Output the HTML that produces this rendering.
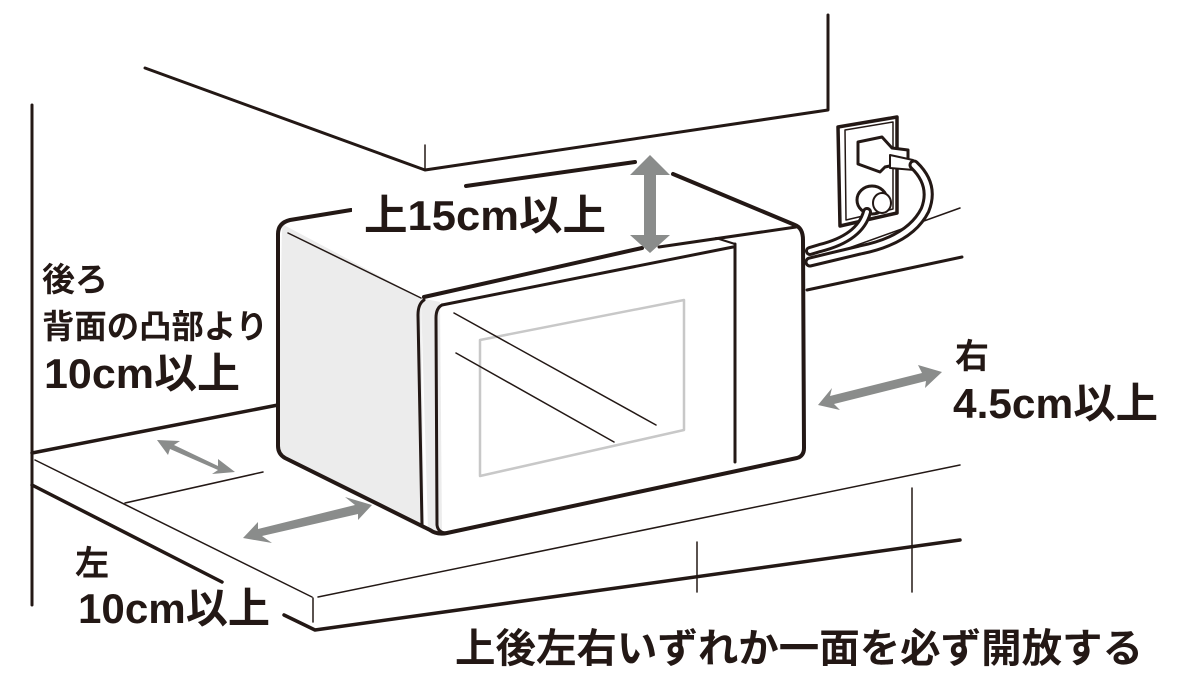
<!DOCTYPE html>
<html><head><meta charset="utf-8"><style>
html,body{margin:0;padding:0;background:#fff;}
svg{display:block}
text{font-family:"Liberation Sans","Noto Sans CJK JP",sans-serif;font-weight:bold;fill:#231815}
</style></head><body>
<svg width="1179" height="676" viewBox="0 0 1179 676" xmlns="http://www.w3.org/2000/svg">
<g stroke="#231815" fill="none" stroke-linecap="round" stroke-linejoin="round">
<polyline points="145,68 425,170 828,110 828,15" stroke-width="3"/>
<line x1="425" y1="145" x2="425" y2="170" stroke-width="1.5"/>
<line x1="32" y1="105" x2="32" y2="605" stroke-width="3"/>
<line x1="32" y1="453" x2="278" y2="405" stroke-width="3.5"/>
<line x1="35" y1="460" x2="312" y2="597" stroke-width="1.5"/>
<line x1="32" y1="485" x2="222" y2="582" stroke-width="3.5"/>
<polyline points="284,615 315,630 960,540" stroke-width="3.5"/>
<line x1="313" y1="598" x2="313" y2="622" stroke-width="1.5"/>
<line x1="318" y1="597" x2="960" y2="465" stroke-width="1.5"/>
<line x1="125" y1="503" x2="263" y2="472" stroke-width="1.5"/>
<line x1="697" y1="542" x2="697" y2="592" stroke-width="1.5"/>
<line x1="912" y1="488" x2="912" y2="592" stroke-width="1.5"/>
<line x1="807" y1="290" x2="962" y2="257" stroke-width="3"/>
<line x1="807" y1="263" x2="960" y2="208" stroke-width="1.5"/>
<path d="M838,127 L897,117 L897,213 L840,226 Z" fill="#fff" stroke-width="3.5"/>
<path d="M845,130 L893,122 L893,209 L846,220 Z" stroke-width="1.5"/>
<path d="M858,142 L882,137 L892,148 L908,150 L908,162 L885,167 L880,172 L858,164 Z" fill="#fff" stroke-width="3"/>
<path d="M890,155 L913,160 Q918,163 914,170 L890,168 Z" fill="#fff" stroke-width="2"/>
<path d="M914,165 Q935,185 925,210 Q910,240 860,250 L810,262" stroke-width="11"/>
<path d="M914,165 Q935,185 925,210 Q910,240 860,250 L810,262" stroke="#fff" stroke-width="5"/>
<ellipse cx="872" cy="200" rx="15" ry="14" fill="#fff" stroke-width="3"/>
<ellipse cx="882" cy="203" rx="9" ry="10" fill="#fff" stroke-width="2"/>
<path d="M867,212 Q860,238 820,248 L810,251" stroke-width="10"/>
<path d="M867,212 Q860,238 820,248 L810,251" stroke="#fff" stroke-width="4"/>
<path d="M280,222 L351,210 L466,186 L635,162 L673,174 L800,223 Q805,230 805,240 L805,450 Q803,456 797,458 L445,533 Q436,535 430,530 L285,458 Q278,454 278,446 L278,232 Q278,224 280,222 Z" fill="#fff" stroke="none"/>
<path d="M282,224 L421,298 L424,530 L285,458 Q278,454 278,446 Z" fill="#ececec" stroke="none"/>
<path d="M421,298 L440,302 L442,533 L428,530 Z" fill="#ececec" stroke="none"/>
<path d="M351,210 L290,220 Q278,223 278,234 L278,446 Q278,454 285,458 L430,530 Q437,535 447,533 L797,458 Q804,456 804,448 L803,240 Q803,228 795,225 L673,174" stroke-width="4"/>
<line x1="466" y1="186" x2="635" y2="162" stroke-width="4"/>
<path d="M424,300 Q418,304 418,315 L422,525" stroke-width="3"/>
<line x1="424" y1="297" x2="642" y2="248" stroke-width="4"/>
<line x1="659" y1="247" x2="796" y2="227" stroke-width="3"/>
<line x1="288" y1="233" x2="421" y2="298" stroke-width="1.5"/>
<path d="M442,305 Q436,308 436,318 L437,525 Q438,533 447,533" stroke-width="3"/>
<path d="M442,305 L733,247" stroke-width="3"/>
<line x1="735" y1="244" x2="735" y2="462" stroke-width="3"/>
<line x1="716" y1="238" x2="735" y2="244" stroke-width="2"/>
<path d="M480,340 L684,300 L684,430 L480,476 Z" stroke="#c8c8c8" stroke-width="2.5"/>
<line x1="454" y1="313" x2="656" y2="425" stroke-width="1.5"/>
<line x1="456" y1="353" x2="614" y2="442" stroke-width="1.5"/>
</g>
<rect x="352" y="188" width="270" height="46" fill="#fff"/>
<g fill="#8a8c8b">
<polygon points="650,155 670,175 656,175 656,235 670,235 650,253 630,235 644,235 644,175 630,175"/>
<polygon points="818,405 832,388 830,396 922,373 918,365 942,372 925,388 926,381 834,404 840,410"/>
<polygon points="243,538 258,522 258,529 355,505 345,497 372,505 358,520 358,514 262,536 272,543"/>
<polygon points="157,440 180,441 174,445 218,466 218,459 235,472 212,474 218,470 170,449 168,455"/>
</g>
<text x="364" y="230" font-size="42" textLength="242" lengthAdjust="spacingAndGlyphs">上15cm以上</text>
<text x="42" y="291" font-size="33">後ろ</text>
<text x="42" y="338" font-size="33" textLength="226" lengthAdjust="spacingAndGlyphs">背面の凸部より</text>
<text x="44" y="388" font-size="42" textLength="196" lengthAdjust="spacingAndGlyphs">10cm以上</text>
<text x="955" y="368" font-size="34">右</text>
<text x="953" y="418" font-size="42" textLength="205" lengthAdjust="spacingAndGlyphs">4.5cm以上</text>
<text x="75" y="575" font-size="34">左</text>
<text x="78" y="623" font-size="42" textLength="192" lengthAdjust="spacingAndGlyphs">10cm以上</text>
<text x="455" y="662" font-size="40" textLength="688" lengthAdjust="spacingAndGlyphs">上後左右いずれか一面を必ず開放する</text>
</svg>
</body></html>
